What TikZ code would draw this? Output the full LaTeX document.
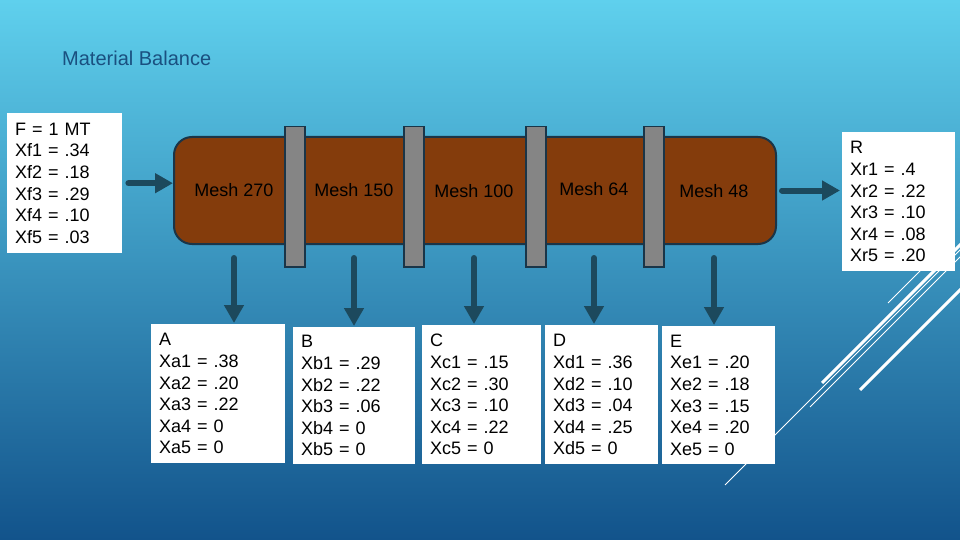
\documentclass[tikz,border=0pt]{standalone}
\usepackage{fontspec}
\setmainfont{Liberation Sans}
\usetikzlibrary{arrows.meta,calc}
\definecolor{brownfill}{HTML}{843C0C}
\definecolor{edgedark}{HTML}{1A3548}
\definecolor{grayfill}{HTML}{858585}
\definecolor{arrowc}{HTML}{1C495D}
\definecolor{titlec}{HTML}{1A5080}
\definecolor{bgtop}{HTML}{5FD0ED}
\definecolor{bgmid}{HTML}{2F90C2}
\definecolor{bgbot}{HTML}{12538B}
\tikzset{
  dbox/.style n args={2}{fill=white, align=left, inner xsep=8pt, inner ysep=0pt,
    anchor=north west, text width=#1, minimum height=#2,
    font=\fontsize{18}{21.6}\selectfont},
  sepbar/.style={draw=edgedark, line width=1.5pt, fill=grayfill, anchor=north west,
    minimum width=20pt, minimum height=140pt, inner sep=0pt},
  meshlbl/.style={font=\fontsize{18}{21.6}\selectfont, text=black, inner sep=0pt},
  arr/.style={draw=arrowc, line width=6pt, line cap=round, -{Triangle[width=19pt,length=18pt]}},
  deco/.style={draw=white, line width=3pt},
  decothin/.style={draw=white, line width=0.8pt}
}
\begin{document}
\begin{tikzpicture}[x=1pt,y=-1pt]
\useasboundingbox (0,0) rectangle (960,540);
\shade[top color=bgtop, middle color=bgmid, bottom color=bgbot] (0,0) rectangle (960,540);
\begin{scope}
\clip (0,0) rectangle (960,540);
\draw[deco] (822,383) -- (965,240);
\draw[deco] (860,390) -- (965,285);
\draw[decothin] (725,485) -- (965,245);
\draw[decothin] (810,407) -- (965,252);
\draw[decothin] (888,303) -- (925,266);
\end{scope}

\node[anchor=west, font=\fontsize{20}{24}\selectfont, text=titlec, inner sep=0pt] (title) at (62,58) {Material Balance};

\node[dbox={99pt}{140pt}] (fbox) at (7,113) {F = 1 MT\\Xf1 = .34\\Xf2 = .18\\Xf3 = .29\\Xf4 = .10\\Xf5 = .03};
\node[dbox={97pt}{139pt}] (rbox) at (842,132) {R\\Xr1 = .4\\Xr2 = .22\\Xr3 = .10\\Xr4 = .08\\Xr5 = .20};

\node[draw=edgedark, line width=2pt, fill=brownfill, rounded corners=18pt, anchor=north west,
  minimum width=602pt, minimum height=107pt, inner sep=0pt] (bar) at (173,136) {};
\node[sepbar] (g1) at (284,126) {};
\node[sepbar] (g2) at (403,126) {};
\node[sepbar] (g3) at (525,126) {};
\node[sepbar] (g4) at (643,126) {};

\node[meshlbl] (m1) at (234,190) {Mesh 270};
\node[meshlbl] (m2) at (354,190) {Mesh 150};
\node[meshlbl] (m3) at (474,191) {Mesh 100};
\node[meshlbl] (m4) at (594,189) {Mesh 64};
\node[meshlbl] (m5) at (714,191) {Mesh 48};

\node[dbox={118pt}{139pt}] (ba) at (151,324) {A\\Xa1 = .38\\Xa2 = .20\\Xa3 = .22\\Xa4 = 0\\Xa5 = 0};
\node[dbox={106pt}{137pt}] (bb) at (293,327) {B\\Xb1 = .29\\Xb2 = .22\\Xb3 = .06\\Xb4 = 0\\Xb5 = 0};
\node[dbox={103pt}{139pt}] (bc) at (422,325) {C\\Xc1 = .15\\Xc2 = .30\\Xc3 = .10\\Xc4 = .22\\Xc5 = 0};
\node[dbox={97pt}{139pt}] (bd) at (545,325) {D\\Xd1 = .36\\Xd2 = .10\\Xd3 = .04\\Xd4 = .25\\Xd5 = 0};
\node[dbox={97pt}{138pt}] (be) at (662,326) {E\\Xe1 = .20\\Xe2 = .18\\Xe3 = .15\\Xe4 = .20\\Xe5 = 0};

\draw[arr] ($(fbox.east)+(6,0)$) -- (fbox.east -| bar.west);
\draw[arr] ($(bar.east)+(5,0)$) -- ($(rbox.west |- bar.east)+(-2,0)$);
\foreach \m/\b in {m1/ba, m2/bb, m3/bc, m4/bd, m5/be}
  \draw[arr] ($(\m |- bar.south)+(0,13)$) -- ($(\m |- \b.north)+(0,-1)$);
\end{tikzpicture}
\end{document}
